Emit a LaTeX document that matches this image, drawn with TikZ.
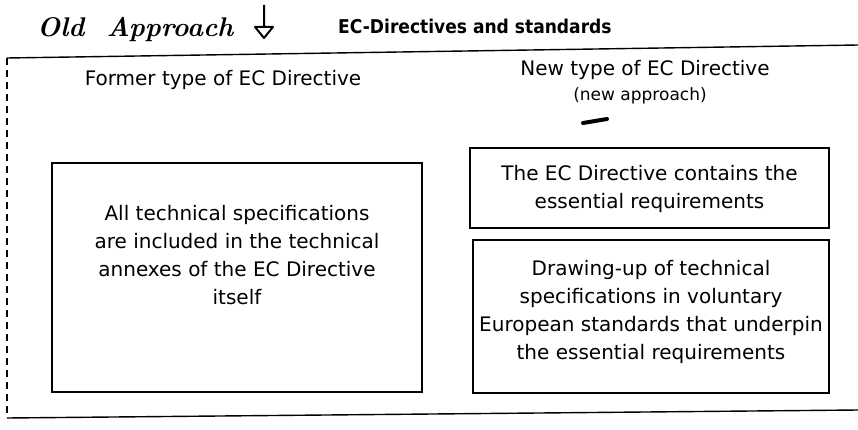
\documentclass[tikz,border=0pt]{standalone}
\usepackage{fontspec}
\setmainfont{DejaVu Sans}
\newfontfamily\titlefont{DejaVu Sans Condensed}
\newfontfamily\handfont{Latin Modern Roman}
\begin{document}
\begin{tikzpicture}[x=1pt,y=-1pt,
  frame/.style={draw=black, line width=1.4pt},
  boxstyle/.style={draw=black, line width=1.3pt, inner sep=0pt},
  plain/.style={inner sep=0pt, align=center, font=\fontsize{20}{28}\selectfont}]
\useasboundingbox (0,0) rectangle (858,430);
% header
\node[anchor=west, inner sep=0pt, font=\handfont\itshape\bfseries\fontsize{27}{27}\selectfont] (old) at (37,30) {Old\ \ Approach};
\coordinate (arrtop) at (264,5);
\coordinate (arrtip) at (264,38);
\draw[line width=2pt, line join=round] (arrtop) -- (264,27) (255,27) -- (273,27) -- (arrtip) -- cycle;
\node[anchor=west, inner sep=0pt, font=\titlefont\bfseries\fontsize{19}{19}\selectfont] (title) at (338,26) {EC-Directives and standards};
% outer frame
\coordinate (otl) at (7,58);
\coordinate (otr) at (858,45);
\coordinate (obl) at (7,418);
\coordinate (obr) at (858,410);
\draw[frame] (otl) -- (otr);
\draw[frame, dash pattern=on 7pt off 5pt] (otl) -- (obl);
\draw[frame] (obl) -- (obr);
% column headings
\node[plain] (former) at (223,80) {Former type of EC Directive};
\node[plain] (newtype) at (645,70) {New type of EC Directive};
\node[plain, font=\fontsize{17}{20}\selectfont] (newapp) at (640,96) {(new approach)};
\draw[line width=4pt, line cap=round] (583,123) -- (607,119);
% boxes
\node[boxstyle, minimum width=370pt, minimum height=229pt] (leftbox) at (237,277.5) {};
\node[plain] (lefttext) at (237,255)
  {All technical specifications\\are included in the technical\\annexes of the EC Directive\\itself};
\node[boxstyle, minimum width=359pt, minimum height=80pt] (box1) at (649.5,188) {};
\node[plain] (text1) at (649.5,189) {The EC Directive contains the\\essential requirements};
\node[boxstyle, minimum width=356pt, minimum height=153pt] (box2) at (651,316.5) {};
\node[plain] (text2) at (651,312)
  {Drawing-up of technical\\specifications in voluntary\\European standards that underpin\\the essential requirements};
\end{tikzpicture}
\end{document}
